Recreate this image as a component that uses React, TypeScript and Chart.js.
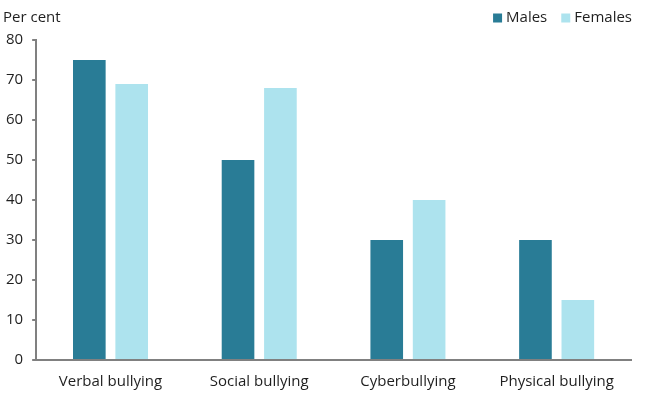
import React, { useEffect, useRef } from "react";
import { Chart, registerables } from "chart.js";

Chart.register(...registerables);

const categories = ["Verbal bullying", "Social bullying", "Cyberbullying", "Physical bullying"];
const males = [75, 50, 30, 30];
const females = [69, 68, 40, 15];
const yTitle = "Per cent";

const FONT = "'Open Sans', 'Noto Sans', sans-serif";
const TEXT = "#1f1f1f";
const AXIS = "#808080";

const overlayPlugin = {
  id: "overlay",
  afterDraw(chart: any) {
    const ctx = chart.ctx;
    ctx.save();
    ctx.font = `15px ${FONT}`;
    ctx.fillStyle = TEXT;
    ctx.textAlign = "left";
    ctx.textBaseline = "middle";
    ctx.fillText(yTitle, 3, 17.5);
    const ds = chart.data.datasets;
    let right = 632;
    for (let i = ds.length - 1; i >= 0; i--) {
      const label = ds[i].label as string;
      const w = ctx.measureText(label).width;
      const tx = right - w;
      ctx.fillStyle = TEXT;
      ctx.fillText(label, tx, 18);
      const bx = tx - 13;
      ctx.fillStyle = ds[i].backgroundColor;
      ctx.fillRect(bx, 13.5, 9, 9);
      right = bx - 14;
    }
    ctx.restore();
  },
};

export default function App() {
  const ref = useRef<HTMLCanvasElement>(null);
  useEffect(() => {
    document.body.style.margin = "0";
    const chart = new Chart(ref.current!, {
      type: "bar",
      data: {
        labels: categories,
        datasets: [
          { label: "Males", data: males, backgroundColor: "#297c96" },
          { label: "Females", data: females, backgroundColor: "#ade3ee" },
        ],
      },
      options: {
        animation: false,
        responsive: false,
        maintainAspectRatio: false,
        layout: { padding: { left: -3, right: 18, top: 40, bottom: -11 } },
        datasets: { bar: { categoryPercentage: 0.57, barPercentage: 0.77 } } as any,
        plugins: {
          legend: { display: false },
          tooltip: { enabled: false },
        },
        scales: {
          x: {
            grid: { drawOnChartArea: false, drawTicks: false, color: "rgba(0,0,0,0)" },
            border: { display: true, color: AXIS, width: 2 },
            ticks: { color: TEXT, font: { family: FONT, size: 15 }, padding: 13 },
          },
          y: {
            min: 0,
            max: 80,
            grid: { drawOnChartArea: false, drawTicks: true, tickLength: 4, color: AXIS, lineWidth: 2 },
            border: { display: true, color: AXIS, width: 2 },
            ticks: { stepSize: 10, color: TEXT, font: { family: FONT, size: 15 }, padding: 9 },
          },
        },
      },
      plugins: [overlayPlugin],
    });
    return () => chart.destroy();
  }, []);
  return (
    <div style={{ position: "absolute", left: 0, top: 0, width: 649, height: 393 }}>
      <canvas ref={ref} width={649} height={393} />
    </div>
  );
}
